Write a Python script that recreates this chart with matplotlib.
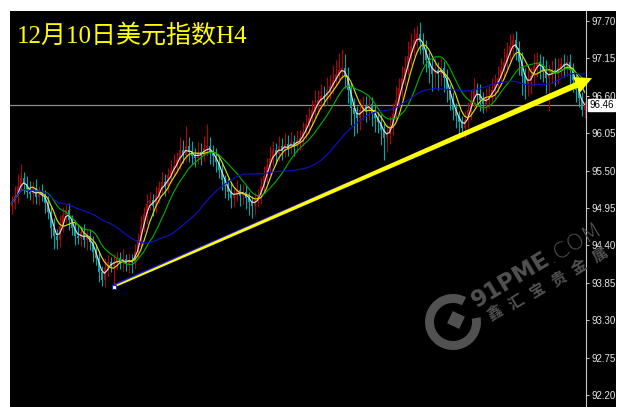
import numpy as np
import pandas as pd
import matplotlib
matplotlib.use('Agg')
import matplotlib.pyplot as plt
from matplotlib.patches import Rectangle, Polygon, Wedge, RegularPolygon
from matplotlib.transforms import IdentityTransform, blended_transform_factory

# ---------------- data ----------------
title = "12月10日美元指数H4"
first_open = 94.98
closes = [
    95.02, 95.13, 95.27, 95.39, 95.30, 95.19, 95.16, 95.24, 95.11, 95.19,
    95.14, 95.02, 94.89, 94.66, 94.54, 94.48, 94.69, 94.85, 94.92, 94.77,
    94.66, 94.54, 94.51, 94.60, 94.48, 94.54, 94.45, 94.30, 94.21, 94.01,
    93.89, 94.07, 94.16, 94.10, 94.16, 94.21, 94.14, 94.20, 94.13, 94.19,
    94.16, 94.30, 94.48, 94.69, 94.86, 95.01, 95.07, 94.98, 95.14, 95.24,
    95.33, 95.27, 95.44, 95.51, 95.57, 95.66, 95.80, 95.73, 95.86, 95.77,
    95.71, 95.69, 95.77, 95.73, 95.83, 95.86, 95.77, 95.71, 95.63, 95.51,
    95.36, 95.27, 95.19, 95.10, 95.16, 95.21, 95.13, 95.19, 95.10, 95.04,
    94.98, 95.07, 95.13, 95.27, 95.42, 95.57, 95.69, 95.80, 95.74, 95.86,
    95.80, 95.89, 95.83, 95.92, 95.86, 95.95, 95.98, 96.07, 96.19, 96.27,
    96.39, 96.48, 96.54, 96.60, 96.57, 96.69, 96.74, 96.83, 96.92, 96.98,
    97.01, 96.89, 96.69, 96.42, 96.33, 96.27, 96.39, 96.45, 96.39, 96.48,
    96.33, 96.27, 96.21, 96.10, 95.98, 96.04, 96.16, 96.33, 96.54, 96.71,
    96.86, 97.01, 97.19, 97.33, 97.42, 97.51, 97.39, 97.27, 97.13, 97.01,
    96.92, 96.98, 96.92, 97.01, 96.86, 96.69, 96.54, 96.39, 96.30, 96.21,
    96.13, 96.24, 96.39, 96.54, 96.69, 96.63, 96.54, 96.48, 96.57, 96.60,
    96.69, 96.77, 96.86, 96.98, 97.10, 97.21, 97.33, 97.42, 97.30, 97.10,
    96.89, 96.77, 96.83, 96.89, 97.04, 97.10, 97.04, 96.95, 96.86, 96.92,
    96.98, 96.92, 97.01, 97.07, 97.04, 97.10, 96.98, 96.83, 96.69, 96.57,
    96.39, 96.46,
]
# upper / lower shadow length beyond the body, in hundredths
hi_ext = [
    10, 14, 18, 20, 9, 12, 15, 10, 14, 9,
    12, 8, 10, 9, 14, 10, 15, 12, 9, 11,
    8, 11, 14, 9, 12, 8, 10, 9, 12, 10,
    9, 14, 10, 7, 12, 9, 10, 14, 7, 10,
    9, 12, 10, 14, 10, 15, 12, 9, 14, 10,
    15, 12, 10, 14, 17, 12, 20, 15, 30, 14,
    17, 12, 15, 14, 18, 32, 14, 10, 12, 9,
    10, 8, 12, 14, 10, 15, 9, 12, 10, 8,
    9, 12, 10, 14, 15, 12, 17, 14, 10, 15,
    12, 17, 14, 15, 10, 14, 12, 15, 14, 17,
    15, 20, 14, 17, 15, 18, 17, 22, 20, 25,
    28, 20, 14, 10, 15, 12, 17, 14, 15, 12,
    10, 14, 9, 12, 10, 15, 14, 17, 20, 15,
    18, 17, 22, 20, 18, 13, 17, 14, 15, 12,
    14, 17, 12, 15, 10, 14, 9, 12, 10, 8,
    10, 14, 12, 15, 17, 10, 14, 12, 15, 14,
    17, 15, 18, 17, 20, 18, 18, 10, 14, 10,
    15, 12, 17, 14, 18, 15, 12, 14, 17, 15,
    14, 18, 15, 10, 14, 10, 12, 10, 9, 10,
    8, 7,
]
lo_ext = [
    12, 9, 10, 7, 14, 10, 9, 15, 10, 12,
    9, 14, 10, 15, 20, 14, 10, 9, 12, 15,
    10, 14, 9, 12, 10, 15, 12, 14, 10, 15,
    8, 10, 12, 9, 31, 10, 9, 12, 10, 14,
    17, 10, 9, 12, 10, 14, 9, 15, 10, 12,
    9, 14, 10, 12, 9, 10, 14, 12, 10, 15,
    12, 14, 10, 15, 9, 12, 17, 14, 15, 12,
    14, 17, 12, 15, 14, 10, 15, 12, 17, 20,
    18, 14, 10, 12, 9, 10, 14, 12, 15, 10,
    14, 10, 12, 9, 15, 10, 14, 12, 10, 14,
    12, 10, 15, 14, 12, 10, 14, 12, 10, 9,
    14, 17, 20, 25, 32, 22, 17, 14, 18, 15,
    17, 20, 15, 22, 32, 20, 15, 14, 12, 10,
    14, 12, 10, 14, 15, 12, 17, 20, 18, 22,
    25, 20, 24, 17, 21, 18, 15, 14, 17, 20,
    8, 15, 12, 14, 10, 15, 17, 14, 12, 15,
    10, 14, 12, 10, 14, 12, 10, 14, 17, 20,
    28, 22, 17, 20, 14, 17, 20, 15, 22, 48,
    15, 18, 14, 12, 17, 15, 20, 17, 18, 13,
    8, 12,
]
tick_values = [97.70, 97.15, 96.60, 96.05, 95.50, 94.95, 94.40, 93.85, 93.30, 92.75, 92.20]
last_price = 96.46
ma_periods = [3, 6, 12, 34]
ma_colors = ['#e0dcdc', '#dede00', '#00a800', '#1010c8']
arrow_end = (193.5, 96.86)
watermark_en = ["91PME", ".COM"]
watermark_cn = "鑫汇宝贵金属"

# ---------------- derived ----------------
close = np.array(closes)
opens = np.concatenate([[first_open], close[:-1]])
highs = np.maximum(opens, close) + np.array(hi_ext) / 100.0
lows = np.minimum(opens, close) - np.array(lo_ext) / 100.0
n = len(close)
idx = np.arange(n)

W, H = 627, 407
fig = plt.figure(figsize=(W / 100, H / 100), dpi=100, facecolor='white')
fig.patches.append(Rectangle((10 / W, 0), 606 / W, 396 / H, transform=fig.transFigure,
                             facecolor='black', edgecolor='none', zorder=-5))
ax = fig.add_axes([10 / W, 0, 576 / W, 396 / H])
ax.set_zorder(1)
ax.set_facecolor('black')
ax.set_xlim(-0.5, n - 0.5)
ax.set_ylim(97.70 - 386 / 68, 97.70 + 10 / 68)

up = close >= opens
col_up, col_dn = '#b40000', '#00a8a8'
colors = np.where(up, col_up, col_dn)
ax.vlines(idx, lows, highs, colors=colors, linewidth=0.8, zorder=2)
body_h = np.maximum(np.abs(close - opens), 0.012)
ax.bar(idx, body_h, bottom=np.minimum(opens, close), width=0.64, color=colors,
       linewidth=0, zorder=2)

s = pd.Series(close)
for p, c in zip(ma_periods, ma_colors):
    ax.plot(idx, s.rolling(p, min_periods=1).mean(), color=c, lw=0.85, zorder=3)

ax.axhline(last_price, color='#8c8c8c', lw=0.9, zorder=1)

# axes styling
for sp in ['left', 'top', 'bottom']:
    ax.spines[sp].set_visible(False)
ax.spines['right'].set_color('#c8c8c8')
ax.spines['right'].set_linewidth(0.8)
ax.set_xticks([])
ax.yaxis.tick_right()
ax.set_yticks(tick_values)
ax.set_yticklabels([f"{v:.2f}" for v in tick_values])
ax.tick_params(axis='y', colors='#c8c8c8', labelcolor='#e6e6e6', length=2.5, width=0.7,
               pad=1.5, labelsize=7)
for lab in ax.get_yticklabels():
    lab.set_family('Liberation Sans')

ax.annotate(f"{last_price:.2f}", xy=(1, last_price),
            xycoords=blended_transform_factory(ax.transAxes, ax.transData),
            xytext=(2.2, 0), textcoords='offset points', ha='left', va='center',
            fontsize=7, family='Liberation Sans', color='black', zorder=6,
            bbox=dict(boxstyle='square,pad=0.12', fc='white', ec='white'), annotation_clip=False)

# title
fig.text(17 / W, 1 - 43 / H, title, color='#ffff00', fontsize=18,
         family=['Liberation Serif', 'Noto Sans CJK SC'], va='baseline', ha='left', zorder=5)

# trend arrow (tapered, from the lowest low)
i0 = int(np.argmin(lows))
p0 = ax.transData.transform((i0, lows[i0]))
p1 = ax.transData.transform(arrow_end)
d = (p1 - p0) / np.hypot(*(p1 - p0))
nv = np.array([-d[1], d[0]])
hl, w0, w1, wh = 17, 0.9, 3.0, 8.5
hb = p1 - d * hl
L = np.hypot(*(p1 - p0))
# blue trendline under the arrow
bl_end = p0 + d * L * 0.5
fig.lines.append(plt.Line2D([p0[0] + nv[0] * 1.6, bl_end[0] + nv[0] * 1.6],
                            [p0[1] + nv[1] * 1.6, bl_end[1] + nv[1] * 1.6],
                            transform=IdentityTransform(), color='#1a1aff', lw=1.1, zorder=4))
pts = [p0 + nv * w0, hb + nv * w1, hb + nv * wh, p1, hb - nv * wh, hb - nv * w1, p0 - nv * w0]
fig.patches.append(Polygon(pts, closed=True, transform=IdentityTransform(),
                           facecolor='#ffff00', edgecolor='none', zorder=5))
fig.lines.append(plt.Line2D([p0[0]], [p0[1]], transform=IdentityTransform(), marker='s',
                            ms=2.8, mfc='white', mec='#1a1aff', mew=0.8, zorder=6))

# watermark
wm = '#515151'
ang = 31
fig.patches.append(Wedge((453, 85), 28, 62, 370, width=9, transform=IdentityTransform(),
                         facecolor=wm, edgecolor='none', zorder=2))
fig.patches.append(RegularPolygon((456, 87), 4, radius=9.5, orientation=0.35,
                                  transform=IdentityTransform(), facecolor=wm,
                                  edgecolor='none', zorder=2))
t = np.deg2rad(ang)
fig.text(477 / W, 99 / H, watermark_en[0], rotation=ang, rotation_mode='anchor',
         ha='left', va='baseline', fontsize=16.5, fontweight='bold', color=wm,
         family='DejaVu Sans', zorder=2)
fig.text((477 + 87 * np.cos(t)) / W, (99 + 87 * np.sin(t)) / H, watermark_en[1],
         rotation=ang, rotation_mode='anchor', ha='left', va='baseline', fontsize=16,
         fontweight='light', color=wm, family='DejaVu Sans', zorder=2)
for k, ch in enumerate(watermark_cn):
    cx = 495 + 21 * k
    cy = 94 + 11.6 * k
    fig.text(cx / W, cy / H, ch, rotation=ang, rotation_mode='anchor', ha='center',
             va='center', fontsize=11, fontweight='bold', color=wm,
             family='Noto Sans CJK SC', zorder=2)

fig.savefig('out.png', dpi=100, facecolor='white')
